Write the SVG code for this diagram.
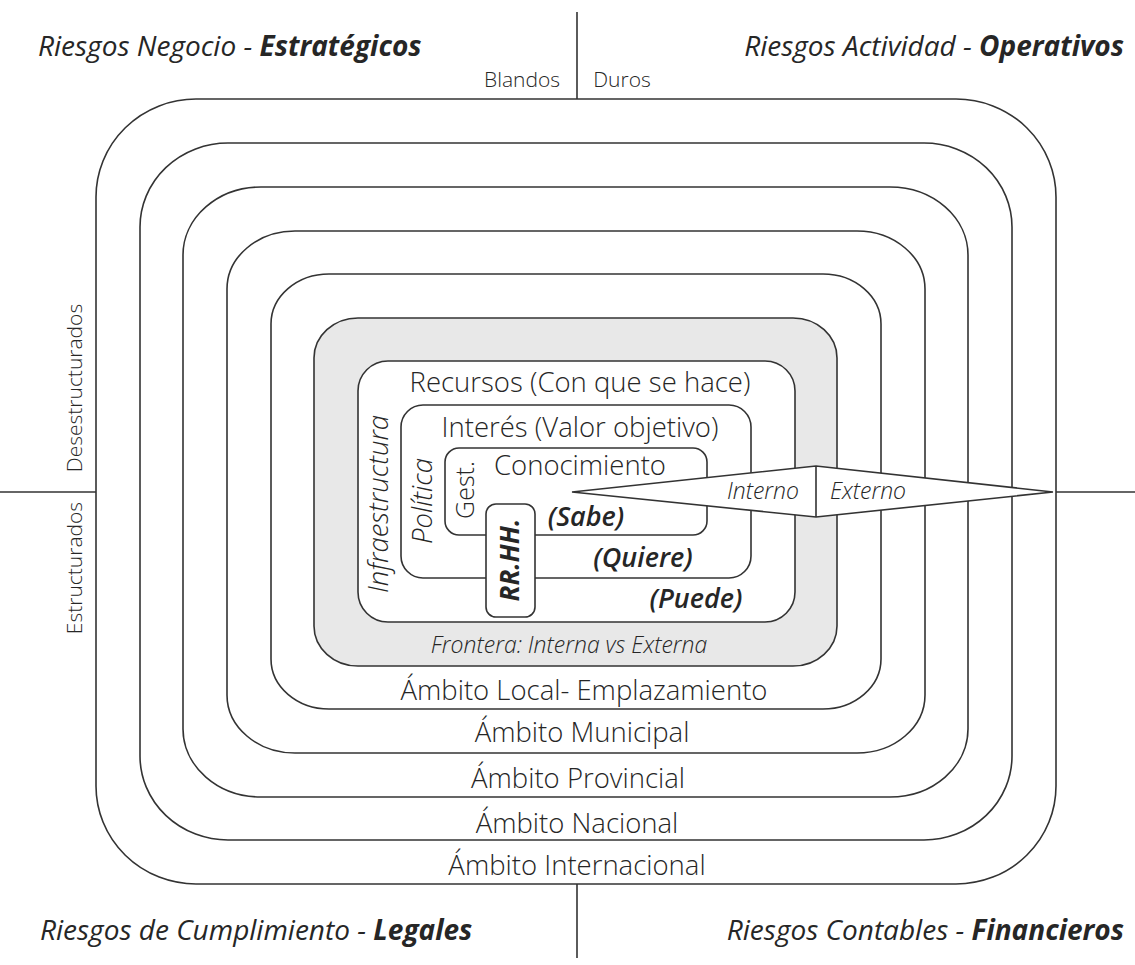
<svg xmlns="http://www.w3.org/2000/svg" width="1135" height="965" viewBox="0 0 1135 965">
  <style>
    text { font-family: "Open Sans", "Liberation Sans", sans-serif; fill: #262626; }
    .band { fill: #ffffff; stroke: #333333; stroke-width: 1.6; }
    .grey { fill: #e8e8e8; }
    .lbl { font-size: 27.5px; font-weight: 300; text-anchor: middle; }
    .it { font-style: italic; }
    .sb { font-style: italic; font-weight: 600; font-size: 27px; text-anchor: middle; }
    .title { font-size: 28px; font-style: italic; font-weight: 400; }
    .b { font-weight: 700; }
    .small { font-size: 21px; font-weight: 300; text-anchor: middle; }
    .mid { font-size: 23px; font-weight: 300; text-anchor: middle; font-style: italic; }
    .axis { stroke: #333333; stroke-width: 1.6; fill: none; }
  </style>

  <!-- quadrant titles -->
  <g id="titles">
    <text class="title" x="38" y="56">Riesgos Negocio - <tspan class="b">Estratégicos</tspan></text>
    <text class="title" x="1124" y="56" text-anchor="end">Riesgos Actividad - <tspan class="b">Operativos</tspan></text>
    <text class="title" x="40" y="940">Riesgos de Cumplimiento - <tspan class="b">Legales</tspan></text>
    <text class="title" x="1124" y="940" text-anchor="end">Riesgos Contables - <tspan class="b">Financieros</tspan></text>
  </g>

  <!-- axes -->
  <g id="connectors">
    <line class="axis" x1="577" y1="12" x2="577" y2="99"/>
    <line class="axis" x1="577" y1="884" x2="577" y2="958"/>
    <line class="axis" x1="0" y1="492" x2="96" y2="492"/>
    <line class="axis" x1="1056" y1="492" x2="1135" y2="492"/>
  </g>

  <g id="axis-labels">
    <text class="small" x="522" y="87">Blandos</text>
    <text class="small" x="622" y="87">Duros</text>
    <text class="small" transform="translate(82,388) rotate(-90)">Desestructurados</text>
    <text class="small" transform="translate(82,568) rotate(-90)">Estructurados</text>
  </g>

  <!-- concentric scopes -->
  <g id="internacional">
    <rect class="band" x="96" y="99" width="960" height="785" rx="100" ry="98"/>
    <text class="lbl" x="577" y="875">Ámbito Internacional</text>
  </g>
  <g id="nacional">
    <rect class="band" x="140" y="143" width="872" height="697" rx="88" ry="84"/>
    <text class="lbl" x="577" y="833">Ámbito Nacional</text>
  </g>
  <g id="provincial">
    <rect class="band" x="183" y="187" width="785" height="610" rx="78" ry="68"/>
    <text class="lbl" x="578" y="788">Ámbito Provincial</text>
  </g>
  <g id="municipal">
    <rect class="band" x="227" y="231" width="698" height="522" rx="68" ry="58"/>
    <text class="lbl" x="582" y="742">Ámbito Municipal</text>
  </g>
  <g id="local">
    <rect class="band" x="271" y="274" width="610" height="435" rx="58" ry="50"/>
    <text class="lbl" x="584" y="700">Ámbito Local- Emplazamiento</text>
  </g>
  <g id="frontera">
    <rect class="band grey" x="314" y="318" width="523" height="348" rx="44" ry="40"/>
    <text class="mid" x="569" y="653">Frontera: Interna vs Externa</text>
  </g>

  <!-- organisation layers -->
  <g id="recursos">
    <rect class="band" x="358" y="361" width="437" height="261" rx="30" ry="30"/>
    <text class="lbl" x="580" y="392">Recursos (Con que se hace)</text>
    <text class="lbl it" transform="translate(388,504) rotate(-90)">Infraestructura</text>
    <text class="sb" x="696" y="608">(Puede)</text>
  </g>
  <g id="interes">
    <rect class="band" x="401" y="405" width="350" height="173" rx="22" ry="22"/>
    <text class="lbl" x="580" y="437">Interés (Valor objetivo)</text>
    <text class="lbl it" transform="translate(432,501) rotate(-90)">Política</text>
    <text class="sb" x="643" y="567">(Quiere)</text>
  </g>
  <g id="conocimiento">
    <rect class="band" x="445" y="448" width="262" height="87" rx="14" ry="14"/>
    <text class="lbl" x="580" y="475">Conocimiento</text>
    <text class="lbl" style="font-size:25px" transform="translate(474,490) rotate(-90)">Gest.</text>
    <text class="sb" x="586" y="526">(Sabe)</text>
  </g>
  <g id="rrhh">
    <rect class="band" x="486" y="504" width="49" height="113" rx="10" ry="10"/>
    <text class="lbl it" style="font-weight:700;font-size:26px" transform="translate(519,560) rotate(-90)">RR.HH.</text>
  </g>

  <!-- internal / external wedge -->
  <g id="interno-externo">
    <polygon class="band" points="572,492 816,466 1053,492 816,517"/>
    <line class="axis" x1="816" y1="466" x2="816" y2="517"/>
    <text class="mid" x="763" y="499">Interno</text>
    <text class="mid" x="868" y="499">Externo</text>
  </g>
</svg>
